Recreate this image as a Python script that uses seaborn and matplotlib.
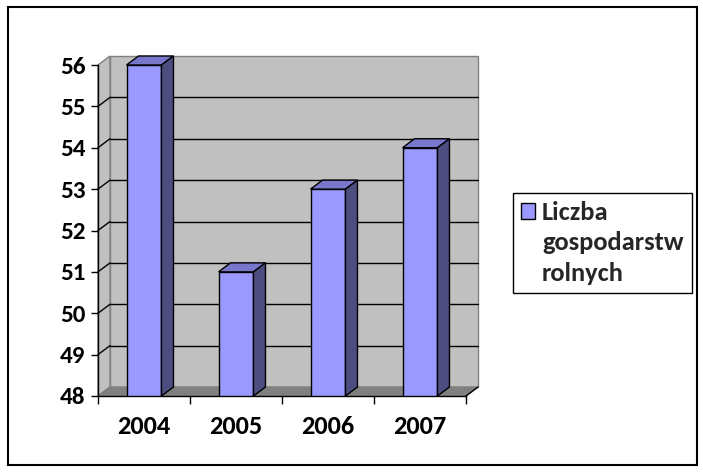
import numpy as np
import pandas as pd
import seaborn as sns
import matplotlib.pyplot as plt
from matplotlib.patches import Polygon, Rectangle, Patch
from matplotlib.lines import Line2D
from matplotlib.transforms import IdentityTransform

# data
years = ['2004', '2005', '2006', '2007']
farms = [56, 51, 53, 54]
series_lines = ['Liczba', 'gospodarstw', 'rolnych']
y_ticks = list(range(48, 57))

# colours (Excel 2003 style)
front_c = '#9999ff'
top_c = '#7777cc'
side_c = '#4d4d80'
wall_c = '#c0c0c0'
floor_c = '#808080'

sns.set_theme(style='white')
plt.rcParams['font.family'] = 'Carlito'
plt.rcParams['font.weight'] = 'bold'

fig = plt.figure(figsize=(7.03, 4.72), dpi=100)
ax = fig.add_axes([98 / 703, 76 / 472, 368 / 703, 331 / 472])
ax.patch.set_visible(False)

df = pd.DataFrame({'year': years, 'n': farms})
sns.barplot(data=df, x='year', y='n', color=front_c, width=0.38, saturation=1,
            edgecolor='black', linewidth=1, ax=ax, zorder=3)
ax.set_xlim(-0.5, len(years) - 0.5)
ax.set_ylim(y_ticks[0], y_ticks[-1])
ax.set_xlabel('')
ax.set_ylabel('')

# depth offset of the fake 3d box, in pixels
d = np.array([12, 9])
lo, hi = y_ticks[0], y_ticks[-1]
x0, x1 = ax.get_xlim()


def px(x, y):
    return ax.transData.transform((x, y))


def poly(pts, fc, ec, z, lw=1):
    p = Polygon(pts, closed=True, facecolor=fc, edgecolor=ec, lw=lw,
                transform=IdentityTransform(), clip_on=False, zorder=z)
    ax.add_patch(p)


def seg(a, b, c, z, lw=1):
    ax.add_line(Line2D([a[0], b[0]], [a[1], b[1]], color=c, lw=lw,
                       transform=IdentityTransform(), clip_on=False, zorder=z))


bars = list(ax.patches)

# back wall, side wall, floor
poly([px(x0, lo) + d, px(x1, lo) + d, px(x1, hi) + d, px(x0, hi) + d], wall_c, floor_c, 0.5)
poly([px(x0, lo), px(x0, lo) + d, px(x0, hi) + d, px(x0, hi)], wall_c, floor_c, 0.5)
poly([px(x0, lo), px(x1, lo), px(x1, lo) + d, px(x0, lo) + d], floor_c, floor_c, 0.7)
seg(px(x1, lo), px(x1, lo) + d, 'black', 0.8)

# gridlines on the walls
for v in y_ticks[1:-1]:
    seg(px(x0, v) + d, px(x1, v) + d, 'black', 0.6)
    seg(px(x0, v), px(x0, v) + d, 'black', 0.6)

# top and side faces of the bars
for b in bars:
    bx0 = b.get_x()
    bx1 = bx0 + b.get_width()
    h = b.get_height()
    poly([px(bx0, h), px(bx1, h), px(bx1, h) + d, px(bx0, h) + d], top_c, 'black', 3.1)
    poly([px(bx1, lo), px(bx1, h), px(bx1, h) + d, px(bx1, lo) + d], side_c, 'black', 3.1)

# axes
for s in ['top', 'right']:
    ax.spines[s].set_visible(False)
for s in ['left', 'bottom']:
    ax.spines[s].set_color('black')
    ax.spines[s].set_linewidth(1)
    ax.spines[s].set_zorder(4)

ax.set_yticks(y_ticks)
ax.set_xticks(range(len(years)), years)
ax.set_xticks(np.arange(-0.5, len(years)), minor=True)
ax.tick_params(axis='y', left=True, length=5, width=1, color='black', pad=4,
               labelsize=18, labelcolor='black')
ax.tick_params(axis='x', which='major', bottom=True, length=0, pad=14,
               labelsize=19, labelcolor='black')
ax.tick_params(axis='x', which='minor', bottom=True, length=6, width=1, color='black')
for t in ax.get_xticklabels() + ax.get_yticklabels():
    t.set_fontweight('bold')

# legend: marker beside the first line only
handles = [Patch(facecolor=front_c, edgecolor='black', lw=1)] + \
          [Patch(visible=False) for _ in series_lines[1:]]
leg = fig.legend(handles, series_lines, loc='center left',
                 bbox_to_anchor=(513 / 703, 1 - 243 / 472),
                 prop={'family': 'Carlito', 'size': 19, 'weight': 'bold'},
                 frameon=True, fancybox=False,
                 edgecolor='black', framealpha=1, handlelength=0.53, handleheight=0.53,
                 handletextpad=0.25, labelspacing=0.28, borderpad=0.32, borderaxespad=0)
leg.get_frame().set_linewidth(1)

# outer chart border
fig.patches.append(Rectangle((8 / 703, 7 / 472), 689 / 703, 458 / 472, fill=False,
                             edgecolor='black', lw=1.5, transform=fig.transFigure))

fig.savefig('out.png', dpi=100)
